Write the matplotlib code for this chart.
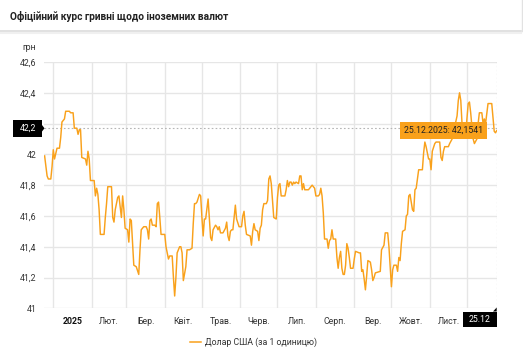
import numpy as np
import matplotlib.pyplot as plt
import matplotlib.dates as mdates
from matplotlib.lines import Line2D
from matplotlib.patches import Rectangle, Polygon

plt.rcParams['font.family'] = ['Roboto', 'DejaVu Sans']

# Офіційний курс USD/UAH
dates = [
    '2024-12-25', '2024-12-27', '2024-12-28', '2024-12-30', '2024-12-31',
    '2025-01-01', '2025-01-02', '2025-01-04', '2025-01-06', '2025-01-07', '2025-01-08', '2025-01-10',
    '2025-01-11', '2025-01-14', '2025-01-15', '2025-01-17', '2025-01-18', '2025-01-20', '2025-01-21',
    '2025-01-22', '2025-01-23', '2025-01-24', '2025-01-27', '2025-01-28', '2025-01-29', '2025-01-30',
    '2025-01-31',
    '2025-02-02', '2025-02-03', '2025-02-04', '2025-02-05', '2025-02-06', '2025-02-07', '2025-02-08',
    '2025-02-10', '2025-02-11', '2025-02-12', '2025-02-13', '2025-02-14', '2025-02-16', '2025-02-17',
    '2025-02-18', '2025-02-19', '2025-02-20', '2025-02-22', '2025-02-23', '2025-02-25', '2025-02-26',
    '2025-02-27', '2025-02-28',
    '2025-03-02', '2025-03-03', '2025-03-04', '2025-03-05', '2025-03-06', '2025-03-07', '2025-03-09',
    '2025-03-11', '2025-03-12', '2025-03-13', '2025-03-15', '2025-03-17', '2025-03-18', '2025-03-19',
    '2025-03-20', '2025-03-21', '2025-03-22', '2025-03-24', '2025-03-25', '2025-03-26', '2025-03-27',
    '2025-03-28', '2025-03-29', '2025-03-31',
    '2025-04-01', '2025-04-02', '2025-04-03', '2025-04-04', '2025-04-05', '2025-04-07', '2025-04-08',
    '2025-04-09', '2025-04-10', '2025-04-11', '2025-04-13', '2025-04-14', '2025-04-15', '2025-04-16',
    '2025-04-18', '2025-04-19', '2025-04-20', '2025-04-21', '2025-04-23', '2025-04-24', '2025-04-25',
    '2025-04-26', '2025-04-27', '2025-04-29', '2025-04-30',
    '2025-05-01', '2025-05-02', '2025-05-03', '2025-05-04', '2025-05-06', '2025-05-07', '2025-05-08',
    '2025-05-09', '2025-05-10', '2025-05-12', '2025-05-13', '2025-05-14', '2025-05-15', '2025-05-16',
    '2025-05-18', '2025-05-20', '2025-05-21', '2025-05-22', '2025-05-23', '2025-05-24', '2025-05-25',
    '2025-05-26', '2025-05-27', '2025-05-28', '2025-05-29', '2025-05-31',
    '2025-06-01', '2025-06-02', '2025-06-03', '2025-06-04', '2025-06-05', '2025-06-06', '2025-06-09',
    '2025-06-10', '2025-06-11', '2025-06-12', '2025-06-13', '2025-06-15', '2025-06-16', '2025-06-17',
    '2025-06-18', '2025-06-19', '2025-06-20', '2025-06-22', '2025-06-23', '2025-06-24', '2025-06-25',
    '2025-06-26', '2025-06-27', '2025-06-28', '2025-06-30',
    '2025-07-01', '2025-07-02', '2025-07-03', '2025-07-04', '2025-07-07', '2025-07-08', '2025-07-09',
    '2025-07-10', '2025-07-11', '2025-07-12', '2025-07-13', '2025-07-14', '2025-07-15', '2025-07-16',
    '2025-07-18', '2025-07-19', '2025-07-20', '2025-07-21', '2025-07-22', '2025-07-23', '2025-07-26',
    '2025-07-27', '2025-07-29', '2025-07-30', '2025-07-31',
    '2025-08-01', '2025-08-03', '2025-08-04', '2025-08-05', '2025-08-06', '2025-08-07', '2025-08-08',
    '2025-08-10', '2025-08-11', '2025-08-12', '2025-08-13', '2025-08-14', '2025-08-15', '2025-08-17',
    '2025-08-18', '2025-08-19', '2025-08-20', '2025-08-21', '2025-08-22', '2025-08-23', '2025-08-24',
    '2025-08-25', '2025-08-26', '2025-08-27', '2025-08-28', '2025-08-29', '2025-08-31',
    '2025-09-01', '2025-09-02', '2025-09-05', '2025-09-06', '2025-09-07', '2025-09-08', '2025-09-09',
    '2025-09-10', '2025-09-11', '2025-09-12', '2025-09-14', '2025-09-15', '2025-09-16', '2025-09-17',
    '2025-09-18', '2025-09-22', '2025-09-23', '2025-09-25', '2025-09-26', '2025-09-28', '2025-09-29',
    '2025-09-30',
    '2025-10-01', '2025-10-02', '2025-10-03', '2025-10-05', '2025-10-06', '2025-10-07', '2025-10-08',
    '2025-10-09', '2025-10-10', '2025-10-12', '2025-10-13', '2025-10-14', '2025-10-15', '2025-10-16',
    '2025-10-18', '2025-10-19', '2025-10-20', '2025-10-21', '2025-10-23', '2025-10-26', '2025-10-27',
    '2025-10-28', '2025-10-29', '2025-10-31',
    '2025-11-01', '2025-11-02', '2025-11-03', '2025-11-05', '2025-11-06', '2025-11-09', '2025-11-10',
    '2025-11-11', '2025-11-12', '2025-11-13', '2025-11-16', '2025-11-17', '2025-11-19', '2025-11-20',
    '2025-11-23', '2025-11-24', '2025-11-25', '2025-11-26', '2025-11-27', '2025-11-28', '2025-11-30',
    '2025-12-02', '2025-12-03', '2025-12-04', '2025-12-05', '2025-12-06', '2025-12-07', '2025-12-09',
    '2025-12-10', '2025-12-11', '2025-12-13', '2025-12-14', '2025-12-15', '2025-12-16', '2025-12-18',
    '2025-12-21', '2025-12-22', '2025-12-23', '2025-12-24', '2025-12-25',
]
usd = [
    41.99, 41.86, 41.84, 41.84, 41.92,
    42.03, 41.97, 42.04, 42.04, 42.11, 42.21, 42.23,
    42.28, 42.28, 42.27, 42.27, 42.17, 42.17, 42.13,
    42.16, 42.16, 41.98, 41.97, 41.93, 42.02, 41.97,
    41.83,
    41.83, 41.83, 41.73, 41.78, 41.74, 41.64, 41.48,
    41.48, 41.48, 41.59, 41.68, 41.79, 41.79, 41.79,
    41.59, 41.56, 41.64, 41.72, 41.73, 41.59, 41.73,
    41.64, 41.52,
    41.51, 41.43, 41.58, 41.57, 41.43, 41.28, 41.27,
    41.22, 41.38, 41.51, 41.53, 41.53, 41.51, 41.45,
    41.57, 41.58, 41.54, 41.54, 41.53, 41.68, 41.69,
    41.59, 41.48, 41.48,
    41.48, 41.40, 41.36, 41.32, 41.34, 41.34, 41.20,
    41.08, 41.20, 41.36, 41.40, 41.40, 41.36, 41.18,
    41.27, 41.38, 41.38, 41.38, 41.39, 41.55, 41.68,
    41.68, 41.69, 41.74, 41.73,
    41.59, 41.47, 41.58, 41.58, 41.71, 41.59, 41.46,
    41.44, 41.51, 41.54, 41.53, 41.51, 41.53, 41.49,
    41.49, 41.52, 41.56, 41.47, 41.44, 41.50, 41.51,
    41.51, 41.59, 41.67, 41.58, 41.53,
    41.53, 41.53, 41.60, 41.63, 41.54, 41.48, 41.47,
    41.41, 41.50, 41.55, 41.51, 41.50, 41.44, 41.52,
    41.54, 41.64, 41.68, 41.68, 41.70, 41.84, 41.86,
    41.81, 41.70, 41.59, 41.58,
    41.72, 41.80, 41.81, 41.73, 41.73, 41.77, 41.83,
    41.79, 41.82, 41.82, 41.80, 41.82, 41.81, 41.82,
    41.81, 41.86, 41.86, 41.77, 41.81, 41.77, 41.77,
    41.78, 41.80, 41.79, 41.78,
    41.73, 41.73, 41.74, 41.78, 41.73, 41.62, 41.45,
    41.45, 41.39, 41.44, 41.45, 41.51, 41.45, 41.45,
    41.33, 41.26, 41.33, 41.37, 41.26, 41.22, 41.22,
    41.28, 41.42, 41.39, 41.33, 41.26, 41.26,
    41.32, 41.37, 41.36, 41.36, 41.24, 41.25, 41.19,
    41.12, 41.21, 41.31, 41.30, 41.25, 41.18, 41.20,
    41.23, 41.24, 41.38, 41.41, 41.49, 41.49, 41.40,
    41.27,
    41.14, 41.25, 41.28, 41.28, 41.24, 41.33, 41.31,
    41.42, 41.50, 41.51, 41.60, 41.61, 41.73, 41.74,
    41.64, 41.63, 41.77, 41.78, 41.90, 41.90, 42.01,
    42.08, 42.05, 41.97,
    41.97, 41.90, 42.02, 42.07, 42.08, 42.08, 41.98,
    41.96, 42.02, 42.05, 42.05, 42.07, 42.10, 42.14,
    42.25, 42.35, 42.40, 42.35, 42.20, 42.14, 42.14,
    42.33, 42.34, 42.27, 42.18, 42.10, 42.07, 42.10,
    42.20, 42.27, 42.27, 42.20, 42.23, 42.20, 42.33,
    42.33, 42.24, 42.15, 42.14, 42.1541,
]

month_labels = ['2025', 'Лют.', 'Бер.', 'Квіт.', 'Трав.', 'Черв.',
                'Лип.', 'Серп.', 'Вер.', 'Жовт.', 'Лист.']
y_ticks = [41.0, 41.2, 41.4, 41.6, 41.8, 42.0, 42.2, 42.4, 42.6]
crosshair_y = 42.17

title = 'Офіційний курс гривні щодо іноземних валют'
series_name = 'Долар США (за 1 одиницю)'

ORANGE = '#f9a11b'
GRID = '#e6e6e6'
TXT = '#333333'

W, H = 523, 350
fig = plt.figure(figsize=(W / 100, H / 100), dpi=100)
fig.patch.set_facecolor('white')

def fx(px):
    return px / W

def fy(py):
    return 1 - py / H

# header
fig.text(fx(10), fy(16), title, fontsize=7.3, fontweight='bold', color='#222222',
         va='center', ha='left')
fig.add_artist(Line2D([0, fx(521)], [fy(31), fy(31)], color='#dcdcdc', lw=1.2))
fig.add_artist(Line2D([0, fx(521)], [fy(32.5), fy(32.5)], color='#f0f0f0', lw=1.5))
fig.add_artist(Line2D([fx(521.5), fx(521.5)], [fy(31), 1], color='#e2e2e2', lw=1))

ax = fig.add_axes([fx(43.5), fy(308.3), fx(496.7) - fx(43.5), fy(62) - fy(308.3)])
x = np.array(dates, dtype='datetime64[D]')
xn = mdates.date2num(x)
ax.plot(xn, usd, color=ORANGE, lw=1.05, zorder=3, solid_joinstyle='round')

x_left = mdates.date2num(np.datetime64('2024-12-24')) + 0.1
x_right = xn[-1]
ax.set_xlim(x_left, x_right)
ax.set_ylim(41.0, 42.6)

for s in ax.spines.values():
    s.set_visible(False)

# month gridlines and mid-month labels
starts = np.arange('2025-01', '2026-01', dtype='datetime64[M]').astype('datetime64[D]')
sn = mdates.date2num(starts)
for v in sn:
    ax.axvline(v, color=GRID, lw=1, zorder=1)
for v in y_ticks:
    ax.axhline(v, color=GRID, lw=1, zorder=1)

mids = (sn[:-1] + sn[1:]) / 2
ax.set_xticks(mids)
ax.set_xticklabels(month_labels)

# the 42,2 label sits under the crosshair marker, which repeats it
y_labels = [f'{v:g}'.replace('.', ',') for v in y_ticks]
y_labels = ['' if round(v, 1) == round(crosshair_y, 1) else s for v, s in zip(y_ticks, y_labels)]
ax.set_yticks(y_ticks)
ax.set_yticklabels(y_labels)
ax.tick_params(length=0, labelsize=6.3, colors=TXT)
ax.tick_params(axis='x', pad=6)
ax.tick_params(axis='y', pad=5)
ax.get_xticklabels()[0].set_fontweight('bold')
ax.get_xticklabels()[0].set_color('#111111')

fig.text(fx(22), fy(47.5), 'грн', fontsize=6.3, color=TXT, va='center', ha='left')

# crosshair
ax.axhline(crosshair_y, color='#b5b5b5', lw=0.8, ls=(0, (1.5, 2)), zorder=2)
ax.axvline(x_right, color='#b5b5b5', lw=0.8, ls=(0, (1.5, 2)), zorder=2)

fig.add_artist(Rectangle((fx(13), fy(136.5)), fx(42) - fx(13), fy(120) - fy(136.5),
                         facecolor='black', edgecolor='none'))
fig.add_artist(Polygon([[fx(42), fy(125)], [fx(44.5), fy(128.3)], [fx(42), fy(131.5)]],
                       closed=True, facecolor='black', edgecolor='none'))
fig.text(fx(27.5), fy(128.3), f'{crosshair_y:.1f}'.replace('.', ','), fontsize=6.3,
         color='white', va='center', ha='center')

fig.add_artist(Rectangle((fx(463.3), fy(327.3)), fx(496.7) - fx(463.3), fy(311.5) - fy(327.3),
                         facecolor='black', edgecolor='none'))
fig.add_artist(Polygon([[fx(493), fy(311.5)], [fx(496.7), fy(307.5)], [fx(496.7), fy(311.5)]],
                       closed=True, facecolor='black', edgecolor='none'))
last_day = x[-1].astype(object)
fig.text(fx(480), fy(319.4), last_day.strftime('%d.%m'), fontsize=6.3, color='white',
         va='center', ha='center')

# tooltip for the last point
tip = last_day.strftime('%d.%m.%Y') + ': ' + f'{usd[-1]:.4f}'.replace('.', ',')
ax.annotate(tip, xy=(x_right, usd[-1]), xytext=(-10, 0), textcoords='offset points',
            ha='right', va='center', fontsize=6.3, color='#222222', zorder=5,
            bbox=dict(boxstyle='square,pad=0.45', facecolor=ORANGE, edgecolor='none'),
            annotation_clip=False)

# legend
fig.add_artist(Line2D([fx(189.5), fx(201)], [fy(342), fy(342)], color=ORANGE, lw=1.1))
fig.text(fx(205), fy(342), series_name, fontsize=6.3, color=TXT, va='center', ha='left')

fig.savefig('out.png', dpi=100, facecolor='white')
